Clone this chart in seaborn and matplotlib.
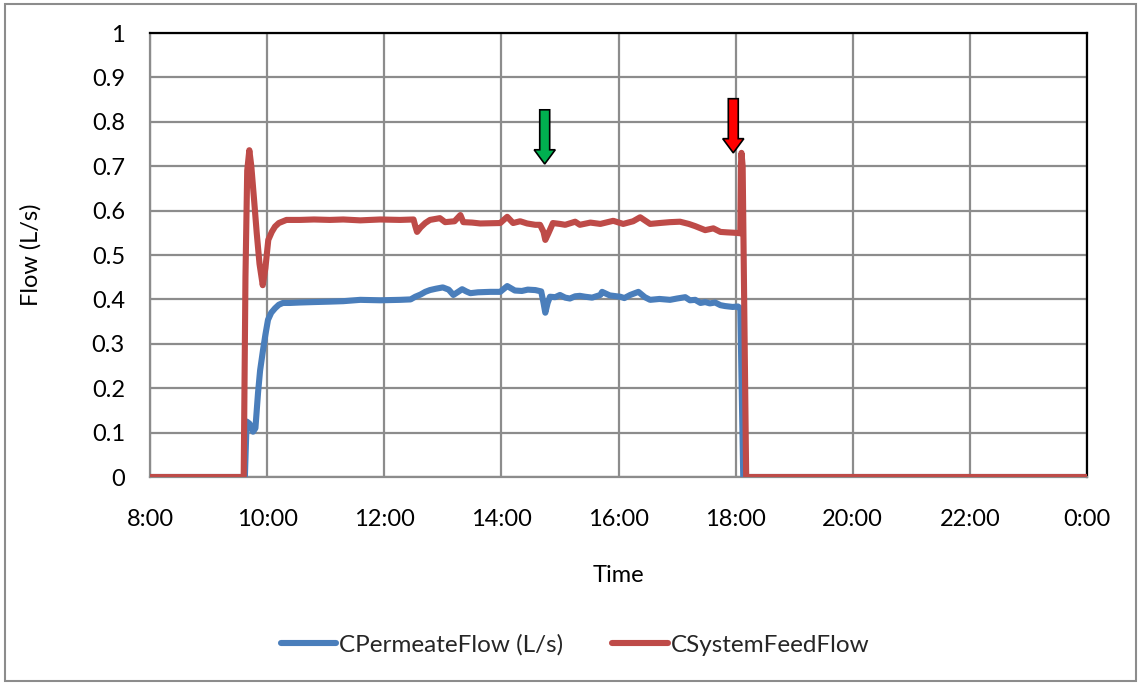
import matplotlib
matplotlib.use("Agg")
import matplotlib.pyplot as plt
from matplotlib.patches import FancyArrow, Rectangle
from matplotlib.lines import Line2D
from matplotlib.ticker import FuncFormatter
import numpy as np
import pandas as pd
import seaborn as sns

# ---- data (time in decimal hours of the day, flow in L/s) ----
permeate_time = [8.00, 9.62, 9.65, 9.70, 9.76, 9.80, 9.845, 9.88, 9.93, 9.97, 10.015,
                 10.07, 10.135, 10.20, 10.27, 10.39, 10.56, 10.80, 11.07, 11.30,
                 11.59, 11.93, 12.27, 12.45, 12.53, 12.62, 12.70, 12.78, 12.88, 13.00,
                 13.10, 13.18, 13.25, 13.33, 13.40, 13.47, 13.60, 13.81, 13.98, 14.10,
                 14.23, 14.35, 14.45, 14.58, 14.68, 14.72, 14.75, 14.79, 14.83, 14.92,
                 15.00, 15.09, 15.17, 15.26, 15.34, 15.43, 15.55, 15.69, 15.72, 15.85,
                 16.03, 16.10, 16.20, 16.34, 16.45, 16.54, 16.70, 16.88, 17.00, 17.14,
                 17.22, 17.31, 17.40, 17.48, 17.56, 17.65, 17.74, 17.82, 17.95, 18.04,
                 18.08, 18.13, 24.00]
permeate_flow = [0.000, 0.000, 0.125, 0.120, 0.102, 0.110, 0.190, 0.240, 0.286, 0.320, 0.354,
                 0.370, 0.380, 0.388, 0.392, 0.392, 0.393, 0.394, 0.395, 0.396,
                 0.399, 0.398, 0.399, 0.400, 0.406, 0.411, 0.417, 0.421, 0.424, 0.427,
                 0.422, 0.410, 0.416, 0.423, 0.418, 0.414, 0.416, 0.417, 0.417, 0.430,
                 0.420, 0.419, 0.422, 0.421, 0.418, 0.392, 0.370, 0.392, 0.406, 0.405,
                 0.410, 0.404, 0.402, 0.407, 0.408, 0.406, 0.404, 0.410, 0.417, 0.409,
                 0.406, 0.403, 0.410, 0.417, 0.405, 0.399, 0.401, 0.399, 0.402, 0.405,
                 0.398, 0.399, 0.392, 0.394, 0.391, 0.393, 0.387, 0.385, 0.383, 0.384,
                 0.380, 0.000, 0.000]

feed_time = [8.00, 9.60, 9.63, 9.66, 9.696, 9.73, 9.78, 9.822, 9.87, 9.925, 9.97,
             10.02, 10.08, 10.135, 10.20, 10.33, 10.56, 10.80, 11.07, 11.30, 11.59,
             11.93, 12.27, 12.50, 12.53, 12.56, 12.62, 12.70, 12.78, 12.95, 13.04,
             13.20, 13.30, 13.35, 13.50, 13.64, 13.98, 14.10, 14.20, 14.32, 14.44,
             14.58, 14.66, 14.72, 14.75, 14.80, 14.88, 15.00, 15.09, 15.26, 15.34,
             15.52, 15.69, 15.91, 16.08, 16.25, 16.37, 16.54, 16.70, 16.88, 17.05,
             17.20, 17.31, 17.48, 17.62, 17.74, 17.85, 17.99, 18.08, 18.09, 18.10,
             18.12, 18.18, 24.00]
feed_flow = [0.000, 0.000, 0.450, 0.690, 0.736, 0.700, 0.620, 0.550, 0.480, 0.432, 0.470,
             0.534, 0.552, 0.564, 0.572, 0.579, 0.579, 0.580, 0.579, 0.580, 0.578,
             0.580, 0.579, 0.580, 0.565, 0.552, 0.562, 0.572, 0.579, 0.583, 0.574,
             0.576, 0.590, 0.574, 0.573, 0.571, 0.572, 0.586, 0.572, 0.576, 0.571,
             0.568, 0.568, 0.552, 0.534, 0.548, 0.572, 0.570, 0.568, 0.575, 0.568,
             0.573, 0.570, 0.577, 0.570, 0.576, 0.585, 0.570, 0.572, 0.574, 0.575,
             0.570, 0.565, 0.556, 0.560, 0.552, 0.551, 0.550, 0.549, 0.700, 0.730,
             0.700, 0.000, 0.000]

series_names = ["CPermeateFlow (L/s)", "CSystemFeedFlow"]
series_colors = ["#4a7ebb", "#be4b48"]

# event markers: (time, tip value, colour)
event_times = [14.74, 17.96]
event_tips = [0.705, 0.73]
event_colors = ["#00b050", "#ff0000"]

x_ticks = np.arange(8, 25, 2)
y_ticks = np.arange(0, 1.01, 0.1)

# ---- long-form table for seaborn ----
df = pd.concat([
    pd.DataFrame({"Time": permeate_time, "Flow": permeate_flow, "Series": series_names[0]}),
    pd.DataFrame({"Time": feed_time, "Flow": feed_flow, "Series": series_names[1]}),
], ignore_index=True)

sns.set_theme(style="white")
plt.rcParams["font.family"] = ["Lato", "DejaVu Sans"]

fig = plt.figure(figsize=(11.39, 6.84), dpi=100)
ax = fig.add_axes([150 / 1139, 1 - 477 / 684, 937 / 1139, 444 / 684])

sns.lineplot(data=df, x="Time", y="Flow", hue="Series",
             palette=dict(zip(series_names, series_colors)),
             estimator=None, sort=False, linewidth=4.4, legend=False, ax=ax,
             zorder=3)
for ln in ax.get_lines():
    ln.set_solid_joinstyle("round")
    ln.set_solid_capstyle("round")

ax.set_xlim(8, 24)
ax.set_ylim(0, 1)
ax.set_xticks(x_ticks)
ax.set_yticks(y_ticks)
ax.xaxis.set_major_formatter(FuncFormatter(lambda v, p: f"{int(round(v)) % 24}:00"))
ax.yaxis.set_major_formatter(FuncFormatter(lambda v, p: f"{v:g}" if v > 0 else "0"))

grid_col = "#8c8c8c"
ax.grid(True, color=grid_col, linewidth=1.6, zorder=0)
ax.set_axisbelow(True)
for side in ("left", "bottom"):
    ax.spines[side].set_color(grid_col)
    ax.spines[side].set_linewidth(1.6)
for side in ("top", "right"):
    ax.spines[side].set_color("black")
    ax.spines[side].set_linewidth(1.6)

ax.tick_params(axis="both", length=0, labelsize=17, labelcolor="black")
ax.tick_params(axis="x", pad=23)
ax.tick_params(axis="y", pad=18)

ax.set_xlabel("Time", fontsize=17, labelpad=25, color="black")
ax.set_ylabel("Flow (L/s)", fontsize=17, labelpad=36, color="black")

# event arrows pointing down onto the traces
for t, tip, col in zip(event_times, event_tips, event_colors):
    length = 0.122
    arr = FancyArrow(t, tip + length, 0, -length, width=0.17, head_width=0.36,
                     head_length=0.032, length_includes_head=True,
                     facecolor=col, edgecolor="black", linewidth=1.2, zorder=5)
    ax.add_patch(arr)

handles = [Line2D([0], [0], color=c, linewidth=4.4, solid_capstyle="round")
           for c in series_colors]
fig.legend(handles, series_names, loc="center",
           bbox_to_anchor=(575 / 1139, 1 - 645 / 684), ncol=2, frameon=False,
           handlelength=2.3, handletextpad=0.12, columnspacing=2.0,
           prop={"family": ["Lato", "DejaVu Sans"], "size": 17.5})

fig.patches.append(Rectangle((5 / 1139, 3 / 684), 1131 / 1139, 677 / 684,
                             transform=fig.transFigure, fill=False,
                             edgecolor="#8c8c8c", linewidth=1.5))

fig.savefig("out.png", dpi=100, facecolor="white")
